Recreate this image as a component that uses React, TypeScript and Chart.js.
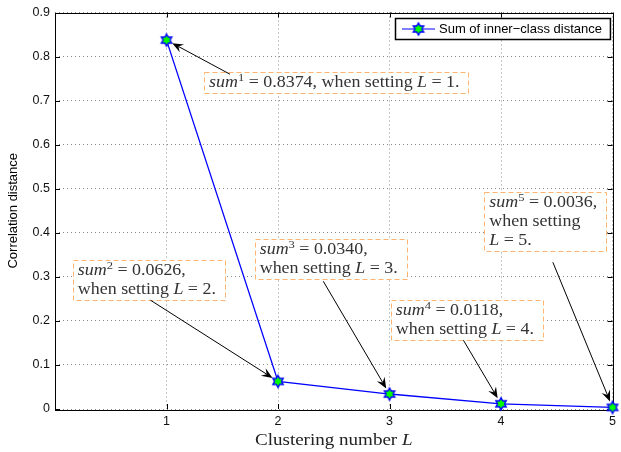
import React, { useEffect, useRef } from "react";
import { Chart, registerables } from "chart.js";

Chart.register(...registerables);

// Clustering number L and the summed inner-class correlation distance for each L
const clusterNumbers = [1, 2, 3, 4, 5];
const innerClassSums = [0.8374, 0.0626, 0.034, 0.0118, 0.0036];

const seriesName = "Sum of inner\u2212class distance";
const yAxisTitle = "Correlation distance";
const xTicks = [1, 2, 3, 4, 5];

// Callout layout: box top-left corner and arrow tail, both in data units,
// plus how the callout text is broken into lines.
type Callout = { box: [number, number]; tail: [number, number]; layout: "one" | "two" | "three" };
const callouts: Callout[] = [
  { box: [1.337, 0.764], tail: [1.569, 0.76], layout: "one" },
  { box: [0.16, 0.338], tail: [0.856, 0.247], layout: "two" },
  { box: [1.791, 0.386], tail: [2.406, 0.29], layout: "two" },
  { box: [3.012, 0.247], tail: [3.663, 0.156], layout: "two" },
  { box: [3.85, 0.492], tail: [4.465, 0.333], layout: "three" },
];

const SERIF = '"Liberation Serif", "Times New Roman", serif';
const SANS = '"Liberation Sans", Arial, Helvetica, sans-serif';
// serif text is drawn slightly widened to get a TeX-like set width
const SERIF_STRETCH = 1.12;

type Seg = { t: string; it?: boolean; sup?: boolean };

function makeHexagram(r: number): HTMLCanvasElement {
  const size = Math.ceil(r * 2 + 4);
  const c = document.createElement("canvas");
  c.width = size;
  c.height = size;
  const g = c.getContext("2d")!;
  const cx = size / 2;
  const cy = size / 2;
  g.beginPath();
  for (let k = 0; k < 12; k++) {
    const ang = -Math.PI / 2 + (k * Math.PI) / 6;
    const rr = k % 2 === 0 ? r : r / Math.sqrt(3);
    const px = cx + rr * Math.cos(ang);
    const py = cy + rr * Math.sin(ang);
    if (k === 0) g.moveTo(px, py);
    else g.lineTo(px, py);
  }
  g.closePath();
  g.fillStyle = "#00ff00";
  g.fill();
  g.lineWidth = 1.4;
  g.strokeStyle = "#0000ff";
  g.stroke();
  return c;
}

function segFont(s: Seg, size: number) {
  const sz = s.sup ? size * 0.7 : size;
  return `${s.it ? "italic " : ""}${sz}px ${SERIF}`;
}

function richWidth(ctx: CanvasRenderingContext2D, segs: Seg[], size: number) {
  let w = 0;
  for (const s of segs) {
    ctx.font = segFont(s, size);
    w += ctx.measureText(s.t).width;
  }
  return w * SERIF_STRETCH;
}

function drawRich(ctx: CanvasRenderingContext2D, segs: Seg[], x: number, y: number, size: number) {
  ctx.save();
  ctx.translate(x, y);
  ctx.scale(SERIF_STRETCH, 1);
  let cx = 0;
  ctx.textAlign = "left";
  ctx.textBaseline = "alphabetic";
  for (const s of segs) {
    ctx.font = segFont(s, size);
    ctx.fillText(s.t, cx, s.sup ? -size * 0.4 : 0);
    cx += ctx.measureText(s.t).width;
  }
  ctx.restore();
  return cx * SERIF_STRETCH;
}

function calloutLines(i: number, layout: Callout["layout"]): Seg[][] {
  const sumPart: Seg[] = [
    { t: "sum", it: true },
    { t: String(clusterNumbers[i]), sup: true },
    { t: " = " + innerClassSums[i].toFixed(4) + "," },
  ];
  const whenL: Seg[] = [{ t: "L", it: true }, { t: " = " + clusterNumbers[i] + "." }];
  if (layout === "one") return [[...sumPart, { t: " when setting " }, ...whenL]];
  if (layout === "two") return [sumPart, [{ t: "when setting " }, ...whenL]];
  return [sumPart, [{ t: "when setting" }], whenL];
}

function drawArrow(ctx: CanvasRenderingContext2D, x0: number, y0: number, x1: number, y1: number) {
  const ang = Math.atan2(y1 - y0, x1 - x0);
  const len = 11;
  const half = 4.5;
  const notch = 7;
  ctx.save();
  ctx.strokeStyle = "#000";
  ctx.fillStyle = "#000";
  ctx.lineWidth = 1;
  ctx.beginPath();
  ctx.moveTo(x0, y0);
  ctx.lineTo(x1 - Math.cos(ang) * notch, y1 - Math.sin(ang) * notch);
  ctx.stroke();
  ctx.translate(x1, y1);
  ctx.rotate(ang);
  ctx.beginPath();
  ctx.moveTo(0, 0);
  ctx.lineTo(-len, -half);
  ctx.lineTo(-notch, 0);
  ctx.lineTo(-len, half);
  ctx.closePath();
  ctx.fill();
  ctx.restore();
}

const markerImg = typeof document !== "undefined" ? makeHexagram(6) : (null as any);

const framePlugin = {
  id: "matlabFrame",
  beforeDatasetsDraw(chart: any) {
    const { ctx, chartArea: a, scales } = chart;
    ctx.save();
    ctx.strokeStyle = "#000";
    ctx.lineWidth = 1;
    const tl = 5;
    ctx.beginPath();
    for (const v of xTicks) {
      const px = Math.round(scales.x.getPixelForValue(v)) + 0.5;
      ctx.moveTo(px, a.bottom);
      ctx.lineTo(px, a.bottom - tl);
      ctx.moveTo(px, a.top);
      ctx.lineTo(px, a.top + tl);
    }
    for (const t of scales.y.ticks) {
      const py = Math.round(scales.y.getPixelForValue(t.value)) + 0.5;
      ctx.moveTo(a.left, py);
      ctx.lineTo(a.left + tl, py);
      ctx.moveTo(a.right, py);
      ctx.lineTo(a.right - tl, py);
    }
    ctx.stroke();
    ctx.strokeRect(Math.round(a.left) + 0.5, Math.round(a.top) + 0.5, Math.round(a.right - a.left), Math.round(a.bottom - a.top));
    ctx.restore();
  },
  afterDraw(chart: any) {
    const { ctx, chartArea: a, scales } = chart;
    const fs = 16;
    ctx.save();

    // callouts with dashed boxes and arrows
    callouts.forEach((c, i) => {
      const lines = calloutLines(i, c.layout);
      const bx = scales.x.getPixelForValue(c.box[0]);
      const by = scales.y.getPixelForValue(c.box[1]);
      let maxW = 0;
      for (const l of lines) maxW = Math.max(maxW, richWidth(ctx, l, fs));
      const bw = maxW + 14;
      const bh = lines.length * 19 + 2;
      ctx.fillStyle = "#fff";
      ctx.fillRect(bx, by, bw, bh);
      ctx.setLineDash([5, 3]);
      ctx.strokeStyle = "#ffb46e";
      ctx.lineWidth = 1;
      ctx.strokeRect(Math.round(bx) + 0.5, Math.round(by) + 0.5, Math.round(bw), Math.round(bh));
      ctx.setLineDash([]);
      ctx.fillStyle = "#333";
      lines.forEach((l, k) => drawRich(ctx, l, bx + 5, by + 15 + k * 19, fs));

      const tx = scales.x.getPixelForValue(c.tail[0]);
      const ty = scales.y.getPixelForValue(c.tail[1]);
      const px = scales.x.getPixelForValue(clusterNumbers[i]);
      const py = scales.y.getPixelForValue(innerClassSums[i]);
      const d = Math.hypot(px - tx, py - ty);
      const back = 6.5;
      drawArrow(ctx, tx, ty, px - ((px - tx) / d) * back, py - ((py - ty) / d) * back);
    });

    // legend
    const lx = 395;
    const ly = 18;
    ctx.font = `13px ${SANS}`;
    const tw = ctx.measureText(seriesName).width;
    const lw = tw + 52;
    const lh = 21;
    ctx.fillStyle = "#fff";
    ctx.fillRect(lx, ly, lw, lh);
    ctx.strokeStyle = "#000";
    ctx.lineWidth = 1.5;
    ctx.strokeRect(lx + 0.5, ly + 0.5, lw, lh);
    const my = ly + lh / 2 + 0.5;
    ctx.strokeStyle = "#0000ff";
    ctx.lineWidth = 1.2;
    ctx.beginPath();
    ctx.moveTo(lx + 7, my);
    ctx.lineTo(lx + 40, my);
    ctx.stroke();
    ctx.drawImage(markerImg, lx + 23.5 - markerImg.width / 2, my - markerImg.height / 2);
    ctx.fillStyle = "#000";
    ctx.textAlign = "left";
    ctx.textBaseline = "middle";
    ctx.fillText(seriesName, lx + 44, my + 0.5);

    // axis titles
    ctx.save();
    ctx.translate(13, (a.top + a.bottom) / 2);
    ctx.rotate(-Math.PI / 2);
    ctx.font = `13px ${SANS}`;
    ctx.textAlign = "center";
    ctx.textBaseline = "middle";
    ctx.fillStyle = "#000";
    ctx.fillText(yAxisTitle, 0, 0);
    ctx.restore();

    const xt: Seg[] = [{ t: "Clustering number " }, { t: "L", it: true }];
    const xw = richWidth(ctx, xt, 17);
    ctx.fillStyle = "#222";
    drawRich(ctx, xt, (a.left + a.right) / 2 - xw / 2, 445, 17);

    ctx.restore();
  },
};

export default function App() {
  const ref = useRef<HTMLCanvasElement | null>(null);

  useEffect(() => {
    document.body.style.margin = "0";
    const canvas = ref.current;
    if (!canvas) return;
    const chart = new Chart(canvas, {
      type: "line",
      data: {
        datasets: [
          {
            label: seriesName,
            data: clusterNumbers.map((x, i) => ({ x, y: innerClassSums[i] })),
            borderColor: "#0000ff",
            borderWidth: 1.3,
            pointStyle: markerImg,
            pointRadius: 6,
            pointHoverRadius: 6,
            tension: 0,
            clip: false,
          } as any,
        ],
      },
      options: {
        animation: false,
        responsive: true,
        maintainAspectRatio: false,
        events: [],
        layout: { padding: { left: 0, top: 12, right: 4, bottom: 0 } },
        plugins: { legend: { display: false }, tooltip: { enabled: false } },
        scales: {
          x: {
            type: "linear",
            min: 0,
            max: 5,
            afterFit: (s: any) => {
              s.height = 43;
            },
            ticks: {
              stepSize: 1,
              padding: 5,
              color: "#111",
              font: { family: SANS, size: 12.5 },
              callback: (v: any) => (Number(v) === 0 ? "" : String(v)),
            },
            grid: { drawTicks: false, color: "#8a8a8a", lineWidth: 1 },
            border: { display: false, dash: [1, 3] },
          },
          y: {
            type: "linear",
            min: 0,
            max: 0.9,
            afterFit: (s: any) => {
              s.width = 55;
            },
            ticks: {
              stepSize: 0.1,
              padding: 5,
              color: "#111",
              font: { family: SANS, size: 12.5 },
              callback: (v: any) => String(Math.round(Number(v) * 10) / 10),
            },
            grid: { drawTicks: false, color: "#8a8a8a", lineWidth: 1 },
            border: { display: false, dash: [1, 3] },
          },
        },
      },
      plugins: [framePlugin],
    });
    return () => chart.destroy();
  }, []);

  return (
    <div style={{ position: "absolute", left: 0, top: 0, width: 621, height: 452, background: "#fff" }}>
      <canvas ref={ref} />
    </div>
  );
}
